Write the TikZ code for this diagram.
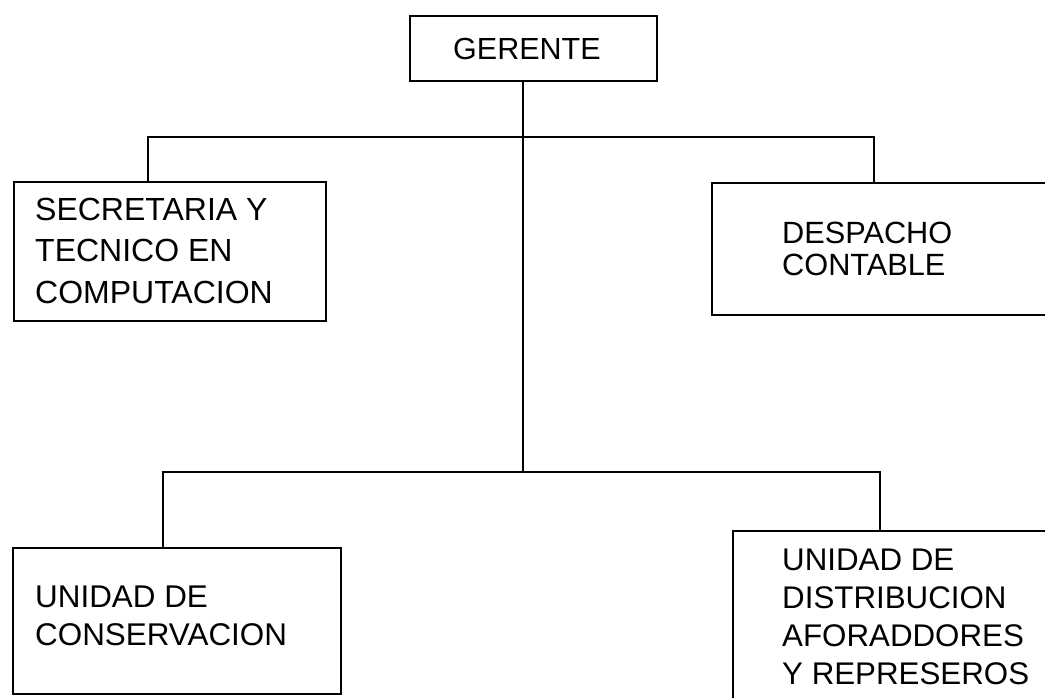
\documentclass[tikz,border=0pt]{standalone}
\usepackage{fontspec}
\setmainfont{Liberation Sans}
\begin{document}
\begin{tikzpicture}[x=1pt,y=-1pt,
  box/.style={draw=black, line width=2pt, rectangle, inner sep=0pt, anchor=north west},
  lbl/.style={inner sep=0pt, anchor=base west, align=left},
  conn/.style={draw=black, line width=2pt}]
\useasboundingbox (0,0) rectangle (1045,698);
\clip (0,0) rectangle (1045,698);
% boxes
\node[box, minimum width=247pt, minimum height=65pt] (ger) at (409,15) {};
\node[box, minimum width=312pt, minimum height=139pt] (sec) at (13,181) {};
\node[box, minimum width=360pt, minimum height=132pt] (des) at (711,182) {};
\node[box, minimum width=328pt, minimum height=146pt] (con) at (12,547) {};
\node[box, minimum width=340pt, minimum height=200pt] (dis) at (732,530) {};
% texts (anchored at the baseline of the last line)
\node[lbl, font=\fontsize{30.5}{36}\selectfont] (tger) at (453,60) {GERENTE};
\node[lbl, font=\fontsize{32}{41.5}\selectfont] (tsec) at (35,303) {SECRETARIA Y\\TECNICO EN\\COMPUTACION};
\node[lbl, font=\fontsize{30.7}{31.5}\selectfont] (tdes) at (782,275) {DESPACHO\\CONTABLE};
\node[lbl, font=\fontsize{31.4}{38}\selectfont] (tcon) at (35,645) {UNIDAD DE\\CONSERVACION};
\node[lbl, font=\fontsize{31.3}{38}\selectfont] (tdis) at (782,684) {UNIDAD DE\\DISTRIBUCION\\AFORADDORES\\Y REPRESEROS};
% connectors
\coordinate (j1) at (523,137);
\coordinate (j2) at (523,472);
\coordinate (l1) at (148,137);
\coordinate (r1) at (874,137);
\coordinate (l2) at (163,472);
\coordinate (r2) at (880,472);
\draw[conn] (ger.south -| j1) -- (j2);
\draw[conn] (sec.north -| l1) -- (l1) -- (r1) -- (des.north -| r1);
\draw[conn] (con.north -| l2) -- (l2) -- (r2) -- (dis.north -| r2);
\end{tikzpicture}
\end{document}
